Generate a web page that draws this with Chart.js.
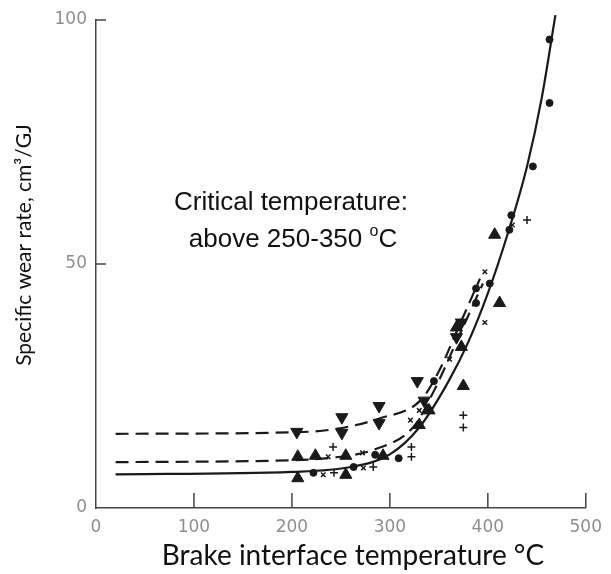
<!DOCTYPE html>
<html>
<head>
<meta charset="utf-8">
<script src="https://cdn.jsdelivr.net/npm/chart.js@4.4.0/dist/chart.umd.min.js"></script>
<style>
  html, body { margin: 0; padding: 0; background: #fff; }
  #wrap { width: 611px; height: 574px; }
</style>
</head>
<body>
<div id="wrap"><canvas id="chart" width="611" height="574"></canvas></div>
<script>
// wear rate vs brake interface temperature
const xTicks = [0, 100, 200, 300, 400, 500];
const yTicks = [0, 50, 100];

// fitted curves [temperature, wear rate]
const solidCurve = [[20,6.9],[200,7.4],[260,8.4],[300,11],[330,16.5],[360,26],[380,34],[400,44],[420,56],[440,70],[455,84],[469,101]];
const dashLow = [[20,9.4],[200,9.8],[250,10.5],[283,11.9],[324,16.6],[345,24],[370,35],[395,46]];
const dashHigh = [[20,15.2],[200,15.5],[245,16.2],[290,18.4],[331,22],[350,28],[370,37],[392,47]];

// measured points
const downTri = [[205,15.6],[251,18.6],[251,15.4],[289,20.9],[289,17.4],[328,26],[335,22],[368,35],[373,38]];
const upTri = [[206,10.5],[206,6.1],[224,10.7],[255,10.7],[255,6.8],[293,10.7],[330,17],[340,20],[368,37],[373,33],[375,25],[407,56],[412,42]];
const dots = [[222,7.2],[263,8.4],[285,10.9],[309,10.2],[345,26],[372,38],[388,42],[388,45],[402,46],[422,57],[424,60],[446,70],[463,83],[463,96]];
const xMarks = [[232,6.8],[237,10.5],[272,11.3],[273,8.2],[321,18],[330,20],[361,30.5],[397,38],[397,48.4],[425,58]];
const plusMarks = [[242,12.5],[243,7.2],[283,8.4],[322,10.5],[322,12.5],[375,16.5],[375,19],[440,59]];

const pts = arr => arr.map(p => ({ x: p[0], y: p[1] }));
const ink = '#1a1a1a';
const grey = '#8e8e8e';

function lineSet(data, dash) {
  return {
    type: 'line', data: pts(data), showLine: true, pointRadius: 0,
    borderColor: ink, borderWidth: 2.2, borderDash: dash,
    cubicInterpolationMode: 'monotone', clip: false, order: 2
  };
}
function markSet(data, style, r, rot) {
  return {
    data: pts(data), showLine: false, pointStyle: style, pointRadius: r,
    pointRotation: rot || 0, backgroundColor: ink, borderColor: ink,
    borderWidth: (style === 'cross' || style === 'crossRot') ? 1.5 : 1, order: 1
  };
}

const decor = {
  id: 'decor',
  beforeDraw(c) {
    const g = c.ctx;
    g.save();
    g.fillStyle = '#fff';
    g.fillRect(0, 0, c.width, c.height);
    g.restore();
  },
  afterDraw(c) {
    const g = c.ctx, xs = c.scales.x, ys = c.scales.y, a = c.chartArea;
    g.save();
    g.strokeStyle = '#444';
    g.lineWidth = 1.5;
    // inward ticks
    xTicks.slice(1).forEach(v => {
      const px = xs.getPixelForValue(v);
      g.beginPath(); g.moveTo(px, a.bottom); g.lineTo(px, a.bottom - 15); g.stroke();
    });
    yTicks.slice(1).forEach(v => {
      const py = ys.getPixelForValue(v);
      g.beginPath(); g.moveTo(a.left, py); g.lineTo(a.left + 10, py); g.stroke();
    });

    g.fillStyle = '#111';
    g.textAlign = 'center';
    g.textBaseline = 'middle';
    // axis titles
    g.font = '28px Lato';
    g.fillText('Brake interface temperature \u00B0C', 353, 556);
    g.save();
    g.translate(24, 245);
    g.rotate(-Math.PI / 2);
    g.font = '21px Lato';
    g.fillText('Specific wear rate, cm\u00B3/GJ', 0, 0);
    g.restore();

    // annotation
    g.font = '26px "Liberation Sans"';
    g.fillText('Critical temperature:', 291, 203);
    const s1 = 'above 250-350 ', s2 = 'o', s3 = 'C';
    g.font = '26px "Liberation Sans"';
    const w1 = g.measureText(s1).width, w3 = g.measureText(s3).width;
    g.font = '16px "Liberation Sans"';
    const w2 = g.measureText(s2).width;
    let x0 = 293 - (w1 + w2 + w3) / 2;
    g.textAlign = 'left';
    g.font = '26px "Liberation Sans"';
    g.fillText(s1, x0, 240);
    g.font = '16px "Liberation Sans"';
    g.fillText(s2, x0 + w1, 232);
    g.font = '26px "Liberation Sans"';
    g.fillText(s3, x0 + w1 + w2, 240);
    g.restore();
  }
};

new Chart(document.getElementById('chart'), {
  type: 'scatter',
  data: {
    datasets: [
      lineSet(solidCurve, []),
      lineSet(dashLow, [13, 7]),
      lineSet(dashHigh, [13, 7]),
      markSet(downTri, 'triangle', 7, 180),
      markSet(upTri, 'triangle', 7, 0),
      markSet(dots, 'circle', 3.5),
      markSet(xMarks, 'crossRot', 3.2),
      markSet(plusMarks, 'cross', 4)
    ]
  },
  options: {
    responsive: false,
    devicePixelRatio: 1,
    animation: false,
    layout: { padding: { left: 0, top: 20, right: 19, bottom: 0 } },
    plugins: { legend: { display: false }, tooltip: { enabled: false } },
    scales: {
      x: {
        type: 'linear', min: 0, max: 500,
        afterFit: s => { s.height = 66; },
        afterBuildTicks: s => { s.ticks = xTicks.map(v => ({ value: v })); },
        grid: { drawOnChartArea: false, drawTicks: false },
        border: { color: '#444', width: 1.5 },
        ticks: { color: grey, padding: 9, font: { family: 'DejaVu Sans', size: 17 } }
      },
      y: {
        type: 'linear', min: 0, max: 100,
        afterFit: s => { s.width = 96; },
        afterBuildTicks: s => { s.ticks = yTicks.map(v => ({ value: v })); },
        grid: { drawOnChartArea: false, drawTicks: false },
        border: { color: '#444', width: 1.5 },
        ticks: { color: grey, padding: 9, font: { family: 'DejaVu Sans', size: 17 } }
      }
    }
  },
  plugins: [decor]
});
</script>
</body>
</html>
